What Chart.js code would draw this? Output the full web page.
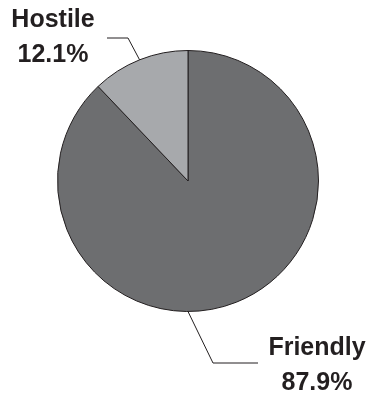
<!DOCTYPE html>
<html>
<head>
<meta charset="utf-8">
<script src="https://cdn.jsdelivr.net/npm/chart.js@4"></script>
<style>
  html, body { margin: 0; padding: 0; background: #fff; }
  #wrap { width: 375px; height: 398px; }
</style>
</head>
<body>
<div id="wrap"><canvas id="myChart" width="375" height="398"></canvas></div>
<script>
const labels = ["Friendly", "Hostile"];
const shares = [87.9, 12.1];
const colors = ["#6d6e70", "#a7a9ac"];

// where each callout sits: angle on the rim (from top, clockwise, degrees or "mid"),
// elbow point, end of the horizontal run, text centre and first baseline
const callouts = [
  { rim: 180, elbow: [213, 363], end: [258, 363], textX: 317, textY: 355 },
  { rim: "mid", elbow: [128, 38], end: [107, 38], textX: 53, textY: 27 },
];

const calloutPlugin = {
  id: "callouts",
  afterDraw(chart) {
    const ctx = chart.ctx;
    const arcs = chart.getDatasetMeta(0).data;
    ctx.save();
    arcs.forEach((arc, i) => {
      const c = callouts[i];
      let a;
      if (c.rim === "mid") a = (arc.startAngle + arc.endAngle) / 2;
      else a = c.rim * Math.PI / 180 - Math.PI / 2;
      const px = arc.x + Math.cos(a) * arc.outerRadius;
      const py = arc.y + Math.sin(a) * arc.outerRadius;
      ctx.strokeStyle = "#231f20";
      ctx.lineWidth = 1;
      ctx.beginPath();
      ctx.moveTo(px, py);
      ctx.lineTo(c.elbow[0], c.elbow[1]);
      ctx.lineTo(c.end[0], c.end[1]);
      ctx.stroke();

      ctx.fillStyle = "#231f20";
      ctx.font = "bold 25px 'Liberation Sans', Arial, sans-serif";
      ctx.textAlign = "center";
      ctx.textBaseline = "alphabetic";
      ctx.fillText(labels[i], c.textX, c.textY);
      ctx.fillText(shares[i].toFixed(1) + "%", c.textX, c.textY + 35);
    });
    ctx.restore();
  }
};

new Chart(document.getElementById("myChart"), {
  type: "pie",
  data: {
    labels: labels,
    datasets: [{
      data: shares,
      backgroundColor: colors,
      borderColor: "#231f20",
      borderWidth: 1,
    }],
  },
  options: {
    responsive: false,
    animation: false,
    layout: { padding: { left: 57, right: 56, top: 50, bottom: 86 } },
    plugins: {
      legend: { display: false },
      tooltip: { enabled: false },
    },
  },
  plugins: [calloutPlugin],
});
</script>
</body>
</html>
